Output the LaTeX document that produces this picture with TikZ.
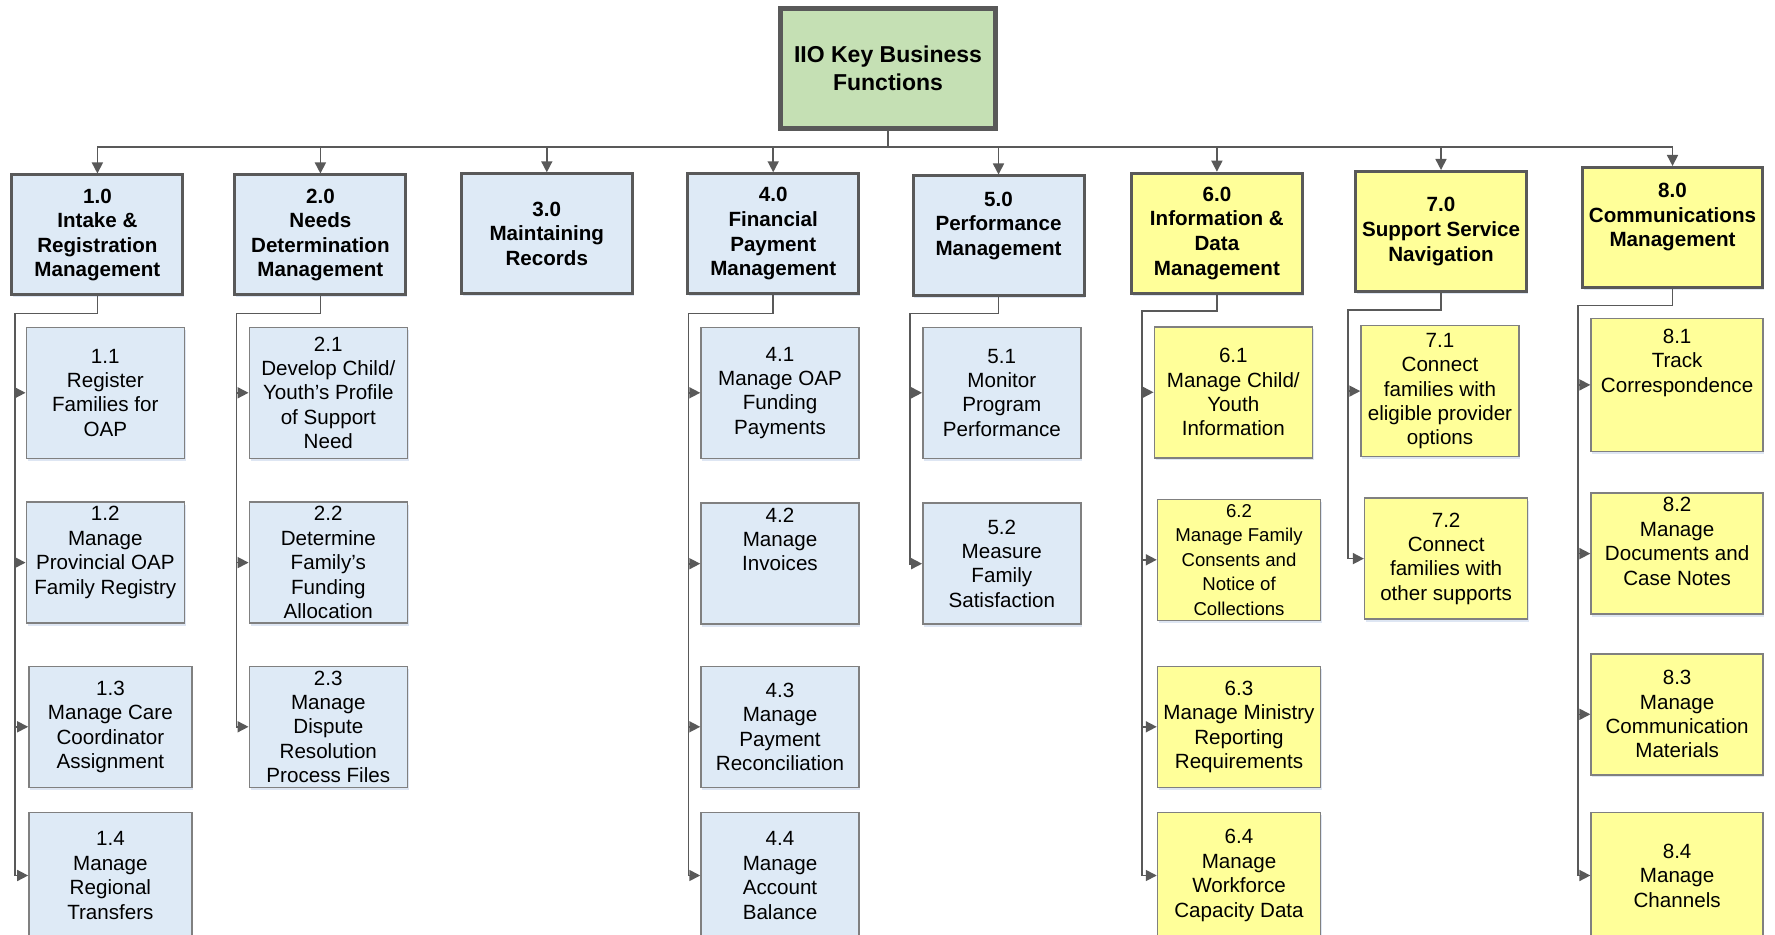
\documentclass[tikz,border=0pt]{standalone}
\usepackage{fontspec}
\setmainfont{Liberation Sans}
\usetikzlibrary{arrows.meta,shapes,shadows}

\definecolor{linegray}{RGB}{89,89,89}
\definecolor{edgegray}{RGB}{128,128,128}
\definecolor{rootgreen}{RGB}{197,224,180}
\definecolor{boxblue}{RGB}{222,234,246}
\definecolor{boxyellow}{RGB}{255,255,153}
\definecolor{shadowblue}{RGB}{214,224,240}

\begin{document}
\begin{tikzpicture}[x=0.5pt,y=-0.5pt,>={Triangle[length=5.5pt,width=5.5pt]},
    link/.style={->,draw=linegray,line width=0.8pt},
    cell/.style={rectangle,draw,align=center,inner sep=1pt,
      drop shadow={shadow xshift=0.6pt,shadow yshift=-1.2pt,fill=shadowblue,opacity=0.8}},
    top node/.style={cell,draw=linegray,fill=rootgreen,line width=2.5pt,
      minimum width=107.5pt,minimum height=60pt,
      font=\fontsize{11.5}{14.2}\selectfont\bfseries},
    head node/.style={cell,draw=linegray,line width=1.5pt,
      minimum width=85.5pt,minimum height=60pt,
      font=\fontsize{10.3}{12.3}\selectfont\bfseries},
    sub node/.style={cell,draw=edgegray,line width=0.75pt,
      minimum width=79pt,minimum height=60.5pt,
      font=\fontsize{10.3}{12.2}\selectfont},
    bluefill/.style={fill=boxblue},
    yellowfill/.style={fill=boxyellow},
    tall box/.style={minimum height=65.5pt},
    wide box/.style={minimum width=81.5pt},
    cut box/.style={minimum height=63pt}]

  \useasboundingbox (0,0) rectangle (1775,935);
  \clip (0,0) rectangle (1775,935);
  \fill[white] (0,0) rectangle (1775,935);

  % root
  \node[top node] (0) at (888,68.5) {IIO Key Business\\Functions};

  % level one
  \node[head node,bluefill] (1) at (97.4,235) {1.0\\Intake \&\\Registration\\Management};
  \node[head node,bluefill] (2) at (320.4,235) {2.0\\Needs\\Determination\\Management};
  \node[head node,bluefill] (3) at (546.8,233.8) {3.0\\Maintaining\\Records};
  \node[head node,bluefill] (4) at (773.2,233.8) {4.0\\Financial\\Payment\\Management};
  \node[head node,bluefill] (5) at (998.5,236) {5.0\\Performance\\Management\\\mbox{}};
  \node[head node,yellowfill] (6) at (1216.9,233.2) {6.0\\Information \&\\Data\\Management};
  \node[head node,yellowfill] (7) at (1441,231.5) {7.0\\Support Service\\Navigation};
  \node[head node,yellowfill,minimum width=90pt] (8) at (1672.5,227.5) {8.0\\Communications\\Management\\\mbox{}};

  % level two
  \node[sub node,bluefill,tall box] (11) at (105.3,392.8) {1.1\\Register\\Families for\\OAP};
  \node[sub node,bluefill] (12) at (105.3,562.6) {1.2\\Manage\\Provincial OAP\\Family Registry\\\mbox{}};
  \node[sub node,bluefill,wide box] (13) at (110.4,726.8) {1.3\\Manage Care\\Coordinator\\Assignment};
  \node[sub node,bluefill,wide box,cut box] (14) at (110.4,875.5) {1.4\\Manage\\Regional\\Transfers};

  \node[sub node,bluefill,tall box] (21) at (328.3,392.8) {2.1\\Develop Child/\\Youth’s Profile\\of Support\\Need};
  \node[sub node,bluefill] (22) at (328.3,562.6) {2.2\\Determine\\Family’s\\Funding\\Allocation};
  \node[sub node,bluefill] (23) at (328.3,726.8) {2.3\\Manage\\Dispute\\Resolution\\Process Files};

  \node[sub node,bluefill,tall box] (41) at (780,392.8) {4.1\\Manage OAP\\Funding\\Payments};
  \node[sub node,bluefill] (42) at (780,563.7) {4.2\\Manage\\Invoices\\\mbox{}\\\mbox{}};
  \node[sub node,bluefill] (43) at (780,726.8) {4.3\\Manage\\Payment\\Reconciliation};
  \node[sub node,bluefill,cut box] (44) at (780,875.5) {4.4\\Manage\\Account\\Balance};

  \node[sub node,bluefill,tall box] (51) at (1001.8,392.8) {5.1\\Monitor\\Program\\Performance};
  \node[sub node,bluefill] (52) at (1001.8,563.7) {5.2\\Measure\\Family\\Satisfaction};

  \node[sub node,yellowfill,tall box] (61) at (1233.3,392.3) {6.1\\Manage Child/\\Youth\\Information};
  \node[sub node,yellowfill,wide box,font=\fontsize{9.3}{12.2}\selectfont] (62) at (1239,559.8) {6.2\\Manage Family\\Consents and\\Notice of\\Collections};
  \node[sub node,yellowfill,wide box] (63) at (1239,726.8) {6.3\\Manage Ministry\\Reporting\\Requirements};
  \node[sub node,yellowfill,wide box,cut box] (64) at (1239,875.5) {6.4\\Manage\\Workforce\\Capacity Data};

  \node[sub node,yellowfill,tall box] (71) at (1440,391.1) {7.1\\Connect\\families with\\eligible provider\\options};
  \node[sub node,yellowfill,wide box] (72) at (1446.1,558.6) {7.2\\Connect\\families with\\other supports};

  \node[sub node,yellowfill,minimum width=86pt,minimum height=66.5pt] (81) at (1677.1,384.9) {8.1\\Track\\Correspondence\\\mbox{}\\\mbox{}};
  \node[sub node,yellowfill,minimum width=86pt] (82) at (1677.1,553.6) {8.2\\Manage\\Documents and\\Case Notes\\\mbox{}};
  \node[sub node,yellowfill,minimum width=86pt] (83) at (1677.1,714.3) {8.3\\Manage\\Communication\\Materials};
  \node[sub node,yellowfill,minimum width=86pt,cut box] (84) at (1677.1,875.5) {8.4\\Manage\\Channels};

  % bends
  \coordinate (bus) at (888,147);
  \coordinate (e1) at (14.7,313.6);
  \coordinate (e2) at (236.6,313.6);
  \coordinate (e4) at (688.3,313.6);
  \coordinate (e5) at (910.1,313.6);
  \coordinate (e6) at (1142.2,311.3);
  \coordinate (e7) at (1348.2,310.2);
  \coordinate (e8) at (1578,305.6);

  \draw[draw=linegray,line width=0.8pt] (0.south) -- (bus);
  \foreach \h in {1,...,8}
    \draw[link] (bus) -| (\h.north);

  \foreach \h/\c in {1/11,1/12,1/13,1/14,2/21,2/22,2/23,4/41,4/42,4/43,4/44,
                     5/51,5/52,6/61,6/62,6/63,6/64,7/71,7/72,8/81,8/82,8/83,8/84}
    \draw[link] (\h.south) |- (e\h) |- (\c.west);
\end{tikzpicture}
\end{document}
